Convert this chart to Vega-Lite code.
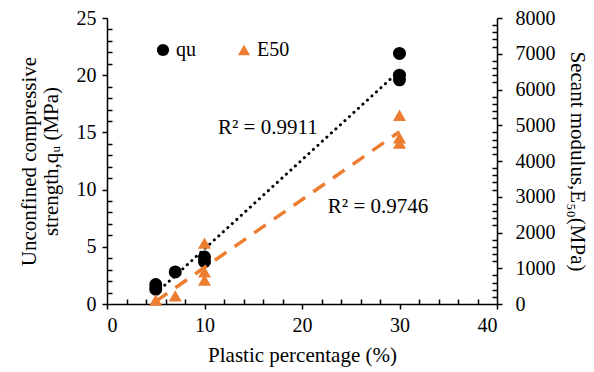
{
  "$schema": "https://vega.github.io/schema/vega-lite/v6.json",
  "width": 390,
  "height": 286,
  "autosize": "none",
  "padding": {"left": 107, "top": 18, "right": 97, "bottom": 68},
  "background": "white",
  "config": {
    "font": "Liberation Serif",
    "view": {"stroke": null},
    "axis": {
      "labelFont": "Liberation Serif", "titleFont": "Liberation Serif",
      "labelFontSize": 20, "titleFontSize": 20, "titleFontWeight": "normal",
      "labelColor": "black", "titleColor": "black",
      "domainColor": "black", "tickColor": "black", "domainWidth": 1.5, "tickWidth": 1.5,
      "grid": false, "tickSize": 5
    },
    "legend": {"labelFont": "Liberation Serif", "labelFontSize": 20, "labelColor": "black"}
  },
  "datasets": {
    "qu": [
      {"x": 5, "val": 1.7, "series": "qu"},
      {"x": 5, "val": 1.3, "series": "qu"},
      {"x": 7, "val": 2.8, "series": "qu"},
      {"x": 10, "val": 4.1, "series": "qu"},
      {"x": 10, "val": 3.7, "series": "qu"},
      {"x": 30, "val": 21.9, "series": "qu"},
      {"x": 30, "val": 20.0, "series": "qu"},
      {"x": 30, "val": 19.6, "series": "qu"}
    ],
    "e50": [
      {"x": 5, "val": 110, "series": "E50"},
      {"x": 7, "val": 230, "series": "E50"},
      {"x": 10, "val": 1700, "series": "E50"},
      {"x": 10, "val": 900, "series": "E50"},
      {"x": 10, "val": 670, "series": "E50"},
      {"x": 30, "val": 5280, "series": "E50"},
      {"x": 30, "val": 4650, "series": "E50"},
      {"x": 30, "val": 4500, "series": "E50"}
    ],
    "labels": [
      {"x": 16.5, "val": 15.4, "txt": "R² = 0.9911"},
      {"x": 27.8, "val": 8.5, "txt": "R² = 0.9746"}
    ],
    "dummy": [{"x": 0, "val": 0}]
  },
  "layer": [
    {
      "layer": [
        {
          "data": {"name": "qu"},
          "transform": [{"regression": "val", "on": "x", "extent": [5, 30]}],
          "mark": {"type": "line", "color": "black", "strokeWidth": 3, "strokeDash": [0.1, 6], "strokeCap": "round"},
          "encoding": {
            "x": {"field": "x", "type": "quantitative"},
            "y": {"field": "val", "type": "quantitative"}
          }
        },
        {
          "data": {"name": "qu"},
          "mark": {"type": "point", "filled": true, "opacity": 1, "size": 170},
          "encoding": {
            "x": {"field": "x", "type": "quantitative"},
            "y": {"field": "val", "type": "quantitative"},
            "color": {"field": "series", "type": "nominal", "scale": {"domain": ["qu", "E50"], "range": ["black", "#ED7D31"]},
              "legend": {"title": null, "orient": "none", "legendX": 46, "legendY": 22, "direction": "horizontal", "columns": 2, "columnPadding": 38, "labelOffset": 3, "symbolSize": 150, "symbolOpacity": 1}},
            "shape": {"field": "series", "type": "nominal", "scale": {"domain": ["qu", "E50"], "range": ["circle", "triangle-up"]},
              "legend": {"title": null, "orient": "none", "legendX": 46, "legendY": 22, "direction": "horizontal", "columns": 2, "columnPadding": 38, "labelOffset": 3, "symbolSize": 150, "symbolOpacity": 1}}
          }
        },
        {
          "data": {"name": "labels"},
          "mark": {"type": "text", "fontSize": 21, "font": "Liberation Serif", "color": "black"},
          "encoding": {
            "x": {"field": "x", "type": "quantitative"},
            "y": {"field": "val", "type": "quantitative"},
            "text": {"field": "txt"}
          }
        }
      ],
      "encoding": {
        "x": {"field": "x", "type": "quantitative", "scale": {"domain": [0, 40]},
          "axis": {"orient": "bottom", "values": [0, 10, 20, 30, 40], "title": "Plastic percentage (%)", "titleFontSize": 21, "labelFont": "Liberation Serif", "titlePadding": 9, "labelPadding": 6}},
        "y": {"field": "val", "type": "quantitative", "scale": {"domain": [0, 25]},
          "axis": {"orient": "left", "values": [0, 5, 10, 15, 20, 25], "title": ["Unconfined compressive", "strength,qᵤ (MPa)"], "titleFontSize": 21, "titleLineHeight": 22, "labelFont": "Liberation Serif", "titlePadding": 15, "labelPadding": 6}}
      }
    },
    {
      "layer": [
        {
          "data": {"name": "e50"},
          "transform": [{"regression": "val", "on": "x", "extent": [5, 30]}],
          "mark": {"type": "line", "color": "#ED7D31", "strokeWidth": 3.5, "strokeDash": [14, 10]},
          "encoding": {
            "x": {"field": "x", "type": "quantitative"},
            "y": {"field": "val", "type": "quantitative"}
          }
        },
        {
          "data": {"name": "e50"},
          "mark": {"type": "point", "filled": true, "opacity": 1, "size": 170},
          "encoding": {
            "x": {"field": "x", "type": "quantitative"},
            "y": {"field": "val", "type": "quantitative"},
            "color": {"field": "series", "type": "nominal"},
            "shape": {"field": "series", "type": "nominal"}
          }
        }
      ],
      "encoding": {
        "x": {"field": "x", "type": "quantitative", "scale": {"domain": [0, 40]}, "axis": null},
        "y": {"field": "val", "type": "quantitative", "scale": {"domain": [0, 8000]},
          "axis": {"orient": "right", "values": [0, 1000, 2000, 3000, 4000, 5000, 6000, 7000, 8000], "format": "d", "title": "Secant modulus,E₅₀(MPa)", "titleFontSize": 21, "labelFont": "Liberation Serif", "titlePadding": 11, "labelPadding": 13}}
      }
    },
    {
      "data": {"name": "dummy"},
      "mark": {"type": "point", "opacity": 0},
      "encoding": {
        "x": {"field": "x", "type": "quantitative", "scale": {"domain": [0, 40]},
          "axis": {"orient": "bottom", "values": [2, 4, 6, 8, 12, 14, 16, 18, 22, 24, 26, 28, 32, 34, 36, 38], "labels": false, "domainOpacity": 0, "title": "", "tickSize": 5, "offset": -5}},
        "y": {"field": "val", "type": "quantitative", "scale": {"domain": [0, 25]},
          "axis": {"orient": "left", "values": [1, 2, 3, 4, 6, 7, 8, 9, 11, 12, 13, 14, 16, 17, 18, 19, 21, 22, 23, 24], "labels": false, "domainOpacity": 0, "title": "", "tickSize": 5, "offset": -5}}
      }
    },
    {
      "data": {"name": "dummy"},
      "mark": {"type": "point", "opacity": 0},
      "encoding": {
        "x": {"field": "x", "type": "quantitative", "scale": {"domain": [0, 40]}, "axis": null},
        "y": {"field": "val", "type": "quantitative", "scale": {"domain": [0, 8000]},
          "axis": {"orient": "right", "values": [200, 400, 600, 800, 1200, 1400, 1600, 1800, 2200, 2400, 2600, 2800, 3200, 3400, 3600, 3800, 4200, 4400, 4600, 4800, 5200, 5400, 5600, 5800, 6200, 6400, 6600, 6800, 7200, 7400, 7600, 7800], "labels": false, "domainOpacity": 0, "title": "", "tickSize": 5, "offset": -5}}
      }
    }
  ],
  "resolve": {"scale": {"x": "independent", "y": "independent"}}
}
